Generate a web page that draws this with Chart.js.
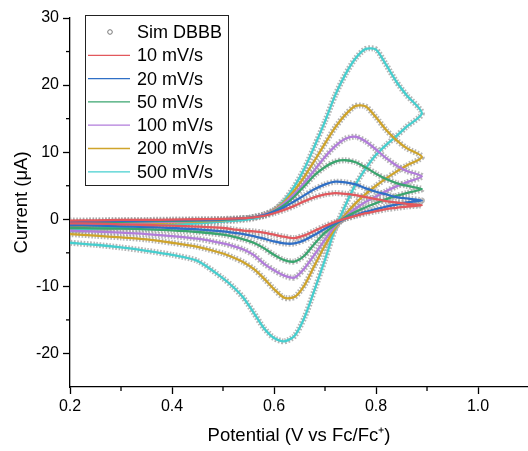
<!DOCTYPE html>
<html>
<head>
<meta charset="utf-8">
<script src="https://cdn.jsdelivr.net/npm/chart.js@4"></script>
<style>
html, body { margin: 0; padding: 0; background: #fff; }
canvas { display: block; }
</style>
</head>
<body>
<canvas id="canvas" width="528" height="451"></canvas>
<script>
"use strict";

// potentials (V vs Fc/Fc+) for the anodic sweep and the return sweep
const fwdPotential = [0.2, 0.25, 0.3, 0.35, 0.4, 0.45, 0.5, 0.55, 0.58, 0.6, 0.62, 0.64, 0.66, 0.68, 0.7, 0.72, 0.74, 0.76, 0.78, 0.8, 0.82, 0.84, 0.86, 0.89];
const revPotential = [0.86, 0.84, 0.82, 0.8, 0.78, 0.76, 0.74, 0.72, 0.7, 0.68, 0.66, 0.64, 0.62, 0.6, 0.58, 0.56, 0.54, 0.52, 0.5, 0.45, 0.4, 0.35, 0.3, 0.25, 0.2];

// currents (uA)
const fwd10 = [-0.2, -0.15, -0.1, -0.1, -0.05, 0, 0.05, 0.2, 0.5, 0.9, 1.4, 2.0, 2.7, 3.3, 3.7, 3.9, 3.8, 3.6, 3.3, 3.0, 2.7, 2.5, 2.3, 2.1];
const rev10 = [1.9, 1.7, 1.5, 1.2, 0.9, 0.5, 0.1, -0.4, -1.0, -1.7, -2.4, -2.8, -2.6, -2.3, -2.0, -1.8, -1.7, -1.5, -1.3, -1.1, -0.95, -0.85, -0.75, -0.65, -0.6];
const fwd20 = [-0.4, -0.3, -0.25, -0.2, -0.15, -0.1, 0, 0.2, 0.6, 1.1, 1.8, 2.7, 3.6, 4.5, 5.2, 5.6, 5.5, 5.2, 4.6, 4.1, 3.7, 3.3, 3.1, 2.8];
const rev20 = [2.5, 2.2, 1.9, 1.5, 1.1, 0.6, 0.1, -0.6, -1.4, -2.3, -3.1, -3.6, -3.6, -3.3, -2.9, -2.5, -2.2, -2.0, -1.8, -1.5, -1.3, -1.15, -1.05, -0.95, -0.9];
const fwd50 = [-0.6, -0.5, -0.4, -0.3, -0.25, -0.2, -0.1, 0.2, 0.6, 1.2, 2.1, 3.4, 5.0, 6.6, 7.8, 8.6, 8.8, 8.5, 7.7, 6.8, 6.0, 5.4, 5.0, 4.5];
const rev50 = [3.9, 3.5, 3.0, 2.4, 1.8, 1.1, 0.3, -0.8, -2.0, -3.6, -5.4, -6.3, -6.1, -5.3, -4.3, -3.5, -3.0, -2.6, -2.3, -1.9, -1.65, -1.5, -1.4, -1.35, -1.3];
const fwd100 = [-0.8, -0.7, -0.55, -0.45, -0.35, -0.25, -0.1, 0.2, 0.7, 1.3, 2.4, 3.8, 5.5, 7.4, 9.3, 10.9, 12.0, 12.3, 11.6, 10.4, 9.1, 8.0, 7.2, 6.4];
const rev100 = [5.5, 4.9, 4.2, 3.4, 2.6, 1.6, 0.4, -1.0, -3.0, -5.2, -7.3, -8.7, -8.4, -7.6, -6.6, -5.3, -4.5, -4.0, -3.6, -2.9, -2.5, -2.2, -2.0, -1.85, -1.7];
const fwd200 = [-1.1, -0.9, -0.75, -0.6, -0.5, -0.35, -0.15, 0.2, 0.7, 1.4, 2.6, 4.3, 6.4, 8.8, 11.3, 13.7, 15.6, 16.9, 16.8, 15.2, 13.3, 11.8, 10.6, 9.3];
const rev200 = [8.0, 7.1, 6.1, 5.0, 3.8, 2.4, 0.7, -1.3, -3.9, -6.8, -9.8, -11.6, -11.7, -10.4, -8.8, -7.4, -6.4, -5.7, -5.1, -4.1, -3.5, -3.0, -2.7, -2.45, -2.2];
const fwd500 = [-1.7, -1.4, -1.15, -0.95, -0.8, -0.6, -0.35, 0.0, 0.5, 1.3, 2.8, 4.9, 7.6, 11.0, 14.6, 18.5, 21.6, 24.0, 25.4, 25.3, 23.0, 20.5, 18.5, 15.8];
const rev500 = [13.8, 12.4, 11.1, 9.6, 7.6, 5.2, 2.1, -1.4, -6.0, -10.4, -14.6, -17.4, -18.2, -17.7, -16.2, -13.9, -11.7, -10.1, -8.8, -6.2, -5.3, -4.7, -4.2, -3.8, -3.5];

const rateLabels = ['10 mV/s', '20 mV/s', '50 mV/s', '100 mV/s', '200 mV/s', '500 mV/s'];
const rateColors = ['#e2585d', '#2f6fc6', '#3aa56f', '#b27ddb', '#cfa42b', '#46cfcf'];
const simLabel = 'Sim DBBB';

const xMajorTicks = [0.2, 0.4, 0.6, 0.8, 1.0];
const xMinorTicks = [0.3, 0.5, 0.7, 0.9];
const yMajorTicks = [-20, -10, 0, 10, 20, 30];
const yMinorTicks = [-15, -5, 5, 15, 25];

const fontFamily = "'Liberation Sans', Arial, sans-serif";

function loopPoints(fwd, rev) {
    let pts = [];
    fwdPotential.forEach((x, i) => pts.push({ x: x, y: fwd[i] }));
    revPotential.forEach((x, i) => pts.push({ x: x, y: rev[i] }));
    return pts;
}

const curves = [
    loopPoints(fwd10, rev10),
    loopPoints(fwd20, rev20),
    loopPoints(fwd50, rev50),
    loopPoints(fwd100, rev100),
    loopPoints(fwd200, rev200),
    loopPoints(fwd500, rev500)
];

let datasets = [];
curves.forEach((pts, i) => {
    datasets.push({
        label: rateLabels[i],
        data: pts,
        showLine: true,
        borderColor: rateColors[i],
        borderWidth: 2.3,
        pointRadius: 0,
        tension: 0.25,
        order: 0
    });
});
// simulated curves: grey beaded band underneath each experimental line
curves.forEach((pts, i) => {
    datasets.push({
        label: i === 0 ? simLabel : '',
        data: pts,
        showLine: true,
        borderColor: 'rgba(150,150,150,0.7)',
        borderWidth: 6,
        borderDash: [1.6, 1.6],
        pointRadius: 0,
        tension: 0.25,
        order: 1
    });
});

// minor ticks and the boxed legend
const extras = {
    id: 'extras',
    afterDraw(chart) {
        let ctx = chart.ctx;
        let xs = chart.scales.x;
        let ys = chart.scales.y;
        ctx.save();
        ctx.strokeStyle = '#000';
        ctx.lineWidth = 1.3;
        xMinorTicks.forEach(v => {
            let px = xs.getPixelForValue(v);
            ctx.beginPath();
            ctx.moveTo(px, xs.top);
            ctx.lineTo(px, xs.top + 4);
            ctx.stroke();
        });
        yMinorTicks.forEach(v => {
            let py = ys.getPixelForValue(v);
            ctx.beginPath();
            ctx.moveTo(ys.right, py);
            ctx.lineTo(ys.right - 4, py);
            ctx.stroke();
        });

        // legend box
        let bx = 85, by = 15, bw = 143, bh = 170;
        ctx.fillStyle = '#fff';
        ctx.fillRect(bx, by, bw, bh);
        ctx.lineWidth = 1;
        ctx.strokeStyle = '#222';
        ctx.strokeRect(bx + 0.5, by + 0.5, bw, bh);

        ctx.font = '18px ' + fontFamily;
        ctx.textBaseline = 'middle';
        ctx.textAlign = 'left';
        ctx.fillStyle = '#000';
        let rowY = i => 32 + i * 23.3;

        ctx.beginPath();
        ctx.arc(110, rowY(0), 2.3, 0, 2 * Math.PI);
        ctx.strokeStyle = '#777';
        ctx.lineWidth = 1;
        ctx.stroke();
        ctx.fillText(simLabel, 137, rowY(0) + 1);

        rateLabels.forEach((label, i) => {
            let y = rowY(i + 1);
            ctx.beginPath();
            ctx.moveTo(88, y);
            ctx.lineTo(130, y);
            ctx.strokeStyle = rateColors[i];
            ctx.lineWidth = 1.3;
            ctx.stroke();
            ctx.fillText(label, 137, y + 1);
        });
        ctx.restore();
    }
};

new Chart(document.getElementById('canvas'), {
    type: 'scatter',
    data: { datasets: datasets },
    options: {
        responsive: false,
        animation: false,
        devicePixelRatio: 1,
        layout: { padding: { top: 18, right: 0, left: 0, bottom: 0 } },
        plugins: {
            legend: { display: false },
            tooltip: { enabled: false }
        },
        scales: {
            x: {
                type: 'linear',
                min: 0.2,
                max: 1.098,
                afterBuildTicks: s => { s.ticks = xMajorTicks.map(v => ({ value: v })); },
                afterFit: s => { s.height = 64; },
                grid: { drawOnChartArea: false, tickLength: 7, tickColor: '#000', tickWidth: 1.3 },
                border: { color: '#000', width: 1.3 },
                ticks: {
                    color: '#000',
                    font: { family: fontFamily, size: 16 },
                    padding: 3,
                    maxRotation: 0,
                    autoSkip: false,
                    callback: v => v.toFixed(1)
                },
                title: {
                    display: true,
                    text: 'Potential (V vs Fc/Fc\u207A)',
                    color: '#000',
                    font: { family: fontFamily, size: 18.5 },
                    padding: { top: 0, bottom: 4 }
                }
            },
            y: {
                type: 'linear',
                min: -25,
                max: 30,
                afterBuildTicks: s => { s.ticks = yMajorTicks.map(v => ({ value: v })); },
                afterFit: s => { s.width = 70; },
                grid: { drawOnChartArea: false, tickLength: 7, tickColor: '#000', tickWidth: 1.3 },
                border: { color: '#000', width: 1.3 },
                ticks: {
                    color: '#000',
                    font: { family: fontFamily, size: 16 },
                    padding: 4,
                    autoSkip: false,
                    callback: v => String(v)
                },
                title: {
                    display: true,
                    text: 'Current (\u03BCA)',
                    color: '#000',
                    font: { family: fontFamily, size: 18.5 },
                    padding: { top: 11, bottom: 0 }
                }
            }
        }
    },
    plugins: [extras]
});
</script>
</body>
</html>
